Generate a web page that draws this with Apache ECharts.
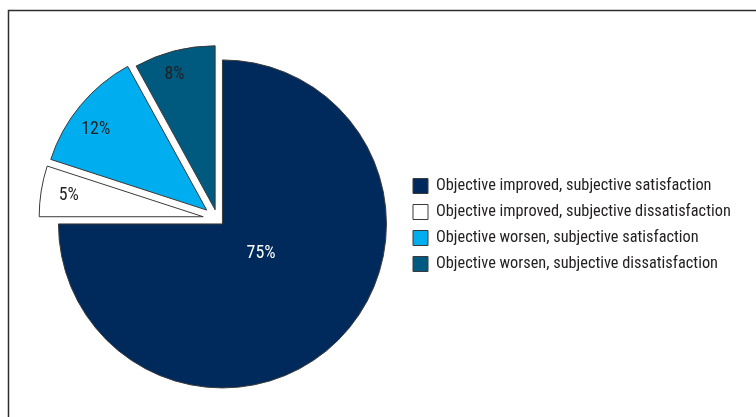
<!DOCTYPE html>
<html>
<head>
<meta charset="utf-8">
<script src="https://cdn.jsdelivr.net/npm/echarts@6/dist/echarts.min.js"></script>
<style>
  html, body { margin: 0; padding: 0; background: #ffffff; }
  #chart { width: 756px; height: 417px; }
</style>
</head>
<body>
<div id="chart"></div>
<script>
// Outcome groups and their share of patients (%)
const categories = [
  'Objective improved, subjective satisfaction',
  'Objective improved, subjective dissatisfaction',
  'Objective worsen, subjective satisfaction',
  'Objective worsen, subjective dissatisfaction'
];
const shares = [75, 5, 12, 8];

// Look of each slice
const sliceColors = ['#002a5c', '#ffffff', '#00aeef', '#005a7f'];
const labelColors = ['#ffffff', '#231f20', '#231f20', '#231f20'];
const explodeBy = [7, 14.5, 14, 9.5];               // px each slice is pulled out
const labelShift = [[-21.5, -31], [-50.5, -7.5], [-45.5, -26.5], [-19.5, -53]];
const EDGE = '#3a3a3a';
const INK = '#231f20';

// Prefer a narrow sans face; fall back to a regular one scaled down to the same width.
function installed(name) {
  const ctx = document.createElement('canvas').getContext('2d');
  const probe = 'Objective improved, subjective dissatisfaction 0123456789%';
  return ['monospace', 'serif'].every(base => {
    ctx.font = '16px ' + base;
    const w0 = ctx.measureText(probe).width;
    ctx.font = "16px '" + name + "', " + base;
    return Math.abs(ctx.measureText(probe).width - w0) > 0.5;
  });
}
const narrowFaces = ['Liberation Sans Narrow', 'Roboto Condensed', 'DejaVu Sans Condensed',
  'Noto Sans Condensed', 'Open Sans Condensed', 'Arial Narrow', 'Liberation Sans'];
const face = narrowFaces.find(installed) || 'sans-serif';
const FONT = "'" + face + "', sans-serif";

function widthAt(text, size) {
  const ctx = document.createElement('canvas').getContext('2d');
  ctx.font = size + 'px ' + FONT;
  return ctx.measureText(text).width;
}
// legend text block is about 295px wide for the longest entry
const longest = categories.reduce((a, b) => (b.length > a.length ? b : a));
const legendSize = Math.min(17, Math.max(12, 16 * 295 / widthAt(longest, 16)));
const labelSize = Math.min(19, Math.max(13, 18 * 29 / widthAt('75%', 18)));

const chart = echarts.init(document.getElementById('chart'), null, { renderer: 'canvas' });

// One pie layer per slice so every slice can be exploded by its own amount;
// in each layer only the owning slice is painted.
const series = categories.map((own, i) => {
  const styleOf = j => (j === i
    ? { color: sliceColors[j], borderColor: EDGE, borderWidth: 1 }
    : { color: 'rgba(0,0,0,0)', borderWidth: 0 });
  return {
    type: 'pie',
    center: [217.5, 219],
    radius: 164,
    startAngle: 90,
    clockwise: true,
    silent: true,
    animation: false,
    avoidLabelOverlap: false,
    selectedMode: 'single',
    selectedOffset: explodeBy[i],
    emphasis: { disabled: true },
    labelLine: { show: false },
    labelLayout: p => (p.dataIndex === i ? { dx: labelShift[i][0], dy: labelShift[i][1] } : {}),
    data: categories.map((name, j) => ({
      name,
      value: shares[j],
      selected: j === i,
      itemStyle: styleOf(j),
      select: { itemStyle: styleOf(j) },
      label: j === i
        ? { show: true, position: 'inside', formatter: '{c}%', color: labelColors[j],
            fontFamily: FONT, fontSize: labelSize }
        : { show: false }
    }))
  };
});

chart.setOption({
  backgroundColor: '#ffffff',
  animation: false,
  legend: {
    orient: 'vertical',
    left: 412.5,
    top: 178,
    padding: 0,
    icon: 'rect',
    itemWidth: 15,
    itemHeight: 15,
    itemGap: 10,
    selectedMode: false,
    textStyle: { fontFamily: FONT, fontSize: legendSize, color: INK, lineHeight: 16, padding: [0, 0, 0, 3] },
    data: categories.map((name, i) => ({
      name,
      itemStyle: { color: sliceColors[i], borderColor: EDGE, borderWidth: 1 }
    }))
  },
  graphic: [{
    type: 'polyline',
    silent: true,
    shape: { points: [[8.5, 417], [8.5, 10.5], [756, 10.5]] },
    style: { stroke: '#2e2e2e', lineWidth: 1.5, fill: null }
  }],
  series
});
</script>
</body>
</html>
